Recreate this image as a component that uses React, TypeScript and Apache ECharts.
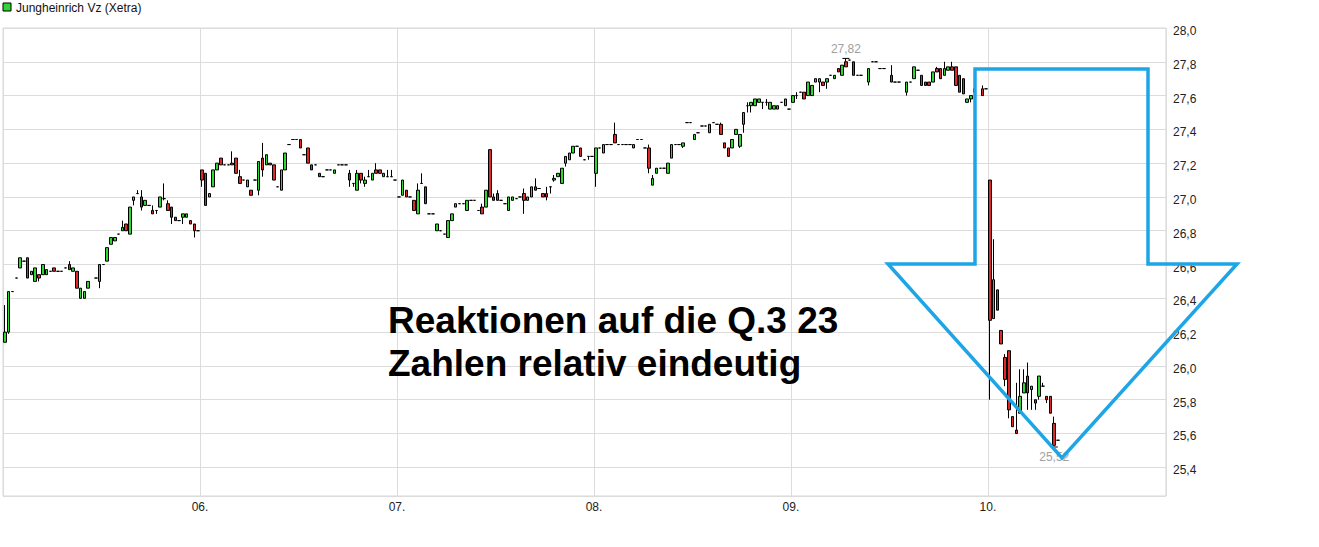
import React, { useEffect, useRef } from "react";
import * as echarts from "echarts";

// each entry: one 10-minute bar from 09:00; [p] = flat, [open, close], or [open, close, low, high]; null = no trade
type Bar = number[] | null;

const dayDates = ["03.11.", "06.11.", "07.11.", "08.11.", "09.11.", "10.11."];
const dayTickLabels = ["03.", "06.", "07.", "08.", "09.", "10."];
const slotsPerDay = 52;
const slotsLastDay = 47;

const nov03: Bar[] = [
  [26.14, 26.2, 26.14, 26.36], [26.2, 26.44, 26.19, 26.44], [26.44], [26.52], [26.58, 26.64], [26.62],
  [26.64, 26.52], [26.54, 26.56], [26.5, 26.58], [26.54, 26.52, 26.5, 26.54], [26.54, 26.6], [26.54, 26.57],
  [26.56], [26.58, 26.56], [26.56], [26.56], [26.58], [26.6, 26.57, 26.57, 26.62], [26.56, 26.58],
  [26.56, 26.46], [26.4, 26.46], [26.4, 26.44], [26.46, 26.5], null, [26.52], [26.5, 26.6, 26.46, 26.6],
  [26.6], [26.62, 26.7], [26.72, 26.76], [26.74, 26.76], [26.78], [26.8, 26.82, 26.8, 26.86], [26.84, 26.8],
  [26.78, 26.94], [26.98, 27.0, 26.95, 27.0], [27.02, 27.02, 27.02, 27.04], [27.0, 26.94, 26.92, 27.04],
  [26.95, 26.98], [26.95], [26.92, 26.9, 26.9, 26.95], [26.92, 26.92, 26.9, 26.92], [26.94, 27.0],
  [26.99, 26.99, 26.98, 27.08], [26.96, 26.92, 26.92, 26.98], [26.94, 26.88, 26.84, 26.94], [26.88, 26.86],
  [26.86], [26.88, 26.9, 26.84, 26.9], [26.88, 26.9], [26.86, 26.84], [26.84, 26.8, 26.76, 26.84], [26.8],
];

const nov06: Bar[] = [
  [27.16, 27.1, 27.06, 27.16], [27.14, 26.95], [27.0, 27.02], [27.06, 27.16], [27.16, 27.2], [27.23, 27.19],
  [27.19], [27.19], [27.2, 27.19, 27.19, 27.27], [27.23, 27.14], [27.12, 27.08, 27.08, 27.16], [27.1],
  [27.06, 27.1], [27.04, 27.01], [27.1], [27.04, 27.21, 27.01, 27.21], [27.23, 27.16, 27.12, 27.32],
  [27.19, 27.25], [27.2, 27.19], [27.19, 27.1], [27.06], [27.04, 27.16], [27.16, 27.26], [27.31], [27.34],
  [27.34], [27.34, 27.29], [27.25], [27.29, 27.2], [27.19, 27.16], [27.19], [27.14, 27.12], [27.12], [27.16],
  [27.16], [27.14, 27.16], [27.19], [27.19], [27.19], [27.14, 27.1, 27.06, 27.16], [27.08, 27.08, 27.06, 27.08],
  [27.04, 27.14, 27.04, 27.16], [27.14, 27.1, 27.08, 27.14], [27.08, 27.1, 27.06, 27.12],
  [27.12, 27.12, 27.12, 27.16], [27.1, 27.14], [27.16, 27.14, 27.14, 27.2], [27.16, 27.14], [27.12, 27.14],
  [27.12, 27.12, 27.12, 27.16], [27.12, 27.12, 27.12, 27.16], [27.1],
];

const nov07: Bar[] = [
  [27.0], [27.01, 27.1], [27.04, 27.0], [27.0], [26.98, 26.92], [26.9, 27.04, 26.9, 27.08],
  [27.08, 27.08, 27.08, 27.14], [27.06, 26.96], [26.9], [26.9], [26.8, 26.84], [26.8], [26.78], [26.76, 26.86],
  [26.86, 26.9], [26.94, 26.96], [26.96], [26.96], [26.92, 26.98], [26.98], [26.98], [26.92],
  [26.94, 26.9, 26.9, 26.96], [26.94, 27.04], [27.28, 27.0], [27.0, 26.98, 26.98, 27.02],
  [27.02, 26.98, 26.98, 27.04], [26.98], [26.96], [26.92, 27.0], [26.98, 27.0], [26.99], [27.0],
  [27.02, 26.98, 26.9, 27.05], [26.98, 27.0], [27.0, 27.06], [27.06, 27.04, 27.04, 27.11], [27.05],
  [27.02, 27.0], [27.02, 27.0, 26.98, 27.06], [27.06, 27.06, 27.02, 27.06], [27.1, 27.11, 27.09, 27.13],
  [27.12, 27.14], [27.08, 27.17], [27.2, 27.24, 27.18, 27.24], [27.22, 27.26], [27.26, 27.3], [27.3],
  [27.29, 27.24], [27.22], [27.24, 27.24, 27.22, 27.24], [27.24],
];

const nov08: Bar[] = [
  [27.14, 27.29, 27.06, 27.29], [27.29], [27.26, 27.31], [27.31], [27.31], [27.37, 27.32, 27.32, 27.44],
  [27.31], [27.31], [27.31], [27.31], [27.29, 27.31], [27.34], [27.34], [27.29], [27.29, 27.17, 27.14, 27.31],
  [27.07, 27.11, 27.07, 27.13], [27.14, 27.17], [27.17], [27.17], [27.14, 27.2], [27.23, 27.31], [27.31],
  [27.31], [27.3, 27.32, 27.29, 27.32], [27.44], [27.44], [27.34, 27.37], [27.38], [27.42], [27.42],
  [27.38, 27.43], [27.44], [27.43], [27.43, 27.37, 27.37, 27.44], [27.32, 27.29], [27.29, 27.24],
  [27.29, 27.34], [27.37, 27.4], [27.3, 27.37, 27.29, 27.37], [27.43, 27.5, 27.38, 27.5],
  [27.54, 27.54, 27.5, 27.56], [27.54, 27.56, 27.5, 27.56], [27.54, 27.58], [27.56, 27.58],
  [27.56, 27.56, 27.52, 27.56], [27.56, 27.56, 27.54, 27.58], [27.52, 27.56], [27.52, 27.54], [27.52, 27.54],
  [27.56], [27.54, 27.58], [27.52],
];

const nov09: Bar[] = [
  [27.56, 27.6], [27.6, 27.6, 27.58, 27.62], [27.62], [27.62, 27.58], [27.6, 27.68], [27.6, 27.66],
  [27.68, 27.7], [27.68, 27.7, 27.62, 27.7], [27.68, 27.66], [27.68, 27.7, 27.64, 27.7], [27.72], [27.7, 27.72],
  [27.76, 27.74], [27.72, 27.78], [27.8, 27.77, 27.77, 27.82], [27.81], [27.8, 27.72], [27.72], [27.72], null,
  [27.68, 27.76, 27.66, 27.76], [27.8], [27.8], [27.76], [27.76], null, [27.72, 27.68, 27.68, 27.78], [27.68],
  [27.68], null, [27.62, 27.68, 27.6, 27.68], [27.68], [27.7, 27.77], [27.75], [27.72, 27.66], [27.68, 27.66],
  [27.68, 27.66], [27.68, 27.74], [27.76, 27.74, 27.74, 27.77], [27.76, 27.7], [27.72, 27.76, 27.72, 27.8],
  [27.75, 27.77], [27.77, 27.75, 27.75, 27.8], [27.77, 27.66], [27.72, 27.62], [27.7, 27.61], [27.56, 27.58],
  [27.58, 27.6, 27.56, 27.6], [27.62, 27.64, 27.58, 27.64], null, [27.64, 27.6, 27.6, 27.66], [27.64],
];

const nov10: Bar[] = [
  [27.1, 26.27, 25.8, 27.1], [26.28, 26.51, 26.28, 26.75], [26.45, 26.33], [26.21, 26.13],
  [26.05, 25.92, 25.88, 26.07], [26.09, 25.74, 25.69, 26.09], [25.7, 25.64], [25.62, 25.6, 25.6, 25.9],
  [25.72, 25.82, 25.72, 25.98], [25.84, 25.9, 25.84, 25.98], [25.94, 25.84, 25.74, 26.02],
  [25.86, 25.88, 25.74, 25.88], [25.8, 25.78, 25.74, 25.8], [25.82, 25.94, 25.8, 25.94],
  [25.88, 25.88, 25.88, 25.9], [25.82, 25.8, 25.78, 25.82], [25.82, 25.72], [25.66, 25.53, 25.52, 25.7],
  [25.56],
];

const days: Bar[][] = [nov03, nov06, nov07, nov08, nov09, nov10];
const annotationLines = ["Reaktionen auf die Q.3 23", "Zahlen relativ eindeutig"];
const legendName = "Jungheinrich Vz (Xetra)";

const FONT = "'Liberation Sans', Arial, Helvetica, sans-serif";
const UP = "#2fd82f";
const DOWN = "#e02828";
const ARROW = "#1ea5e6";

function pad(n: number) {
  return String(n).padStart(2, "0");
}

function buildSeries() {
  const categories: string[] = [];
  const ohlc: any[] = [];
  days.forEach((d, di) => {
    const n = di === days.length - 1 ? slotsLastDay : slotsPerDay;
    for (let j = 0; j < n; j++) {
      const m = 540 + 10 * j;
      categories.push(`${dayDates[di]} ${pad(Math.floor(m / 60))}:${pad(m % 60)}`);
      const c = d[j];
      if (!c) ohlc.push(["-", "-", "-", "-"]);
      else if (c.length === 1) ohlc.push([c[0], c[0], c[0], c[0]]);
      else if (c.length === 2) ohlc.push([c[0], c[1], Math.min(c[0], c[1]), Math.max(c[0], c[1])]);
      else ohlc.push(c);
    }
  });
  return { categories, ohlc };
}

const fmtComma = (v: number, digits: number) => v.toFixed(digits).replace(".", ",");

export default function App() {
  const ref = useRef<HTMLDivElement>(null);

  useEffect(() => {
    if (!ref.current) return;
    const chart = echarts.init(ref.current, undefined, { renderer: "svg" });
    const { categories, ohlc } = buildSeries();
    const total = categories.length;

    const gridL = 3, gridT = 28, gridW = 1163, gridH = 468;

    const option: any = {
      animation: false,
      backgroundColor: "#ffffff",
      textStyle: { fontFamily: FONT },
      grid: { left: gridL, top: gridT, width: gridW, height: gridH, show: true, borderColor: "#d6d6d6", borderWidth: 1 },
      xAxis: [
        { type: "category", data: categories, show: false, boundaryGap: true },
        {
          type: "value",
          min: 0,
          max: total,
          interval: slotsPerDay,
          position: "bottom",
          axisLine: { show: false },
          axisTick: { show: false },
          splitLine: { show: true, lineStyle: { color: "#dcdcdc", width: 1 } },
          axisLabel: {
            show: true,
            color: "#222",
            fontSize: 12,
            fontFamily: FONT,
            margin: 5,
            formatter: (v: number) => {
              const d = Math.round(v / slotsPerDay);
              return v > 0 && Math.abs(v - d * slotsPerDay) < 1e-6 && d < dayTickLabels.length ? dayTickLabels[d] : "";
            },
          },
        },
      ],
      yAxis: {
        type: "value",
        position: "right",
        min: 25.23,
        max: 28.0,
        splitNumber: 14,
        minInterval: 0.2,
        maxInterval: 0.2,
        axisLine: { show: false },
        axisTick: { show: false },
        splitLine: { show: true, lineStyle: { color: "#dcdcdc", width: 1 } },
        axisLabel: {
          color: "#222",
          fontSize: 12,
          fontFamily: FONT,
          margin: 7,
          verticalAlign: "top",
          lineHeight: 6,
          formatter: (v: number) => {
            const k = Math.round(v * 5);
            return Math.abs(v * 5 - k) < 1e-6 ? fmtComma(k / 5, 1) : "";
          },
        },
      },
      series: [
        {
          type: "candlestick",
          xAxisIndex: 0,
          yAxisIndex: 0,
          data: ohlc,
          barWidth: 3,
          itemStyle: {
            color: UP,
            color0: DOWN,
            borderColor: "#000",
            borderColor0: "#000",
            borderColorDoji: "#000",
            borderWidth: 1,
          },
          markPoint: {
            symbol: "rect",
            symbolSize: [7, 1],
            itemStyle: { color: "#000" },
            label: {
              show: true,
              color: "#a0a0a0",
              fontSize: 12,
              fontFamily: FONT,
              distance: 3,
              formatter: (p: any) => fmtComma(Number(p.value), 2),
            },
            data: [
              { type: "max", valueDim: "highest", label: { position: "top" } },
              { type: "min", valueDim: "lowest", label: { position: "bottom" } },
            ],
          },
        },
      ],
      graphic: [
        {
          type: "rect",
          shape: { x: 3, y: 3, width: 8, height: 8 },
          style: { fill: UP, stroke: "#000", lineWidth: 1 },
          z: 10,
        },
        {
          type: "text",
          x: 16,
          y: 7.5,
          style: { text: legendName, fontSize: 12, fontFamily: FONT, fill: "#111", verticalAlign: "middle" },
          z: 10,
        },
        {
          type: "polygon",
          shape: {
            points: [
              [975, 69], [1148, 69], [1148, 264], [1237, 264], [1062, 458], [888, 264], [975, 264],
            ],
          },
          style: { fill: "none", stroke: ARROW, lineWidth: 3.5, lineJoin: "miter" },
          z: 20,
        },
        ...annotationLines.map((t, i) => ({
          type: "text",
          x: 388,
          y: 320 + i * 43,
          style: { text: t, fontSize: 37, fontWeight: "bold", fontFamily: FONT, fill: "#000", verticalAlign: "middle" },
          z: 20,
        })),
      ],
    };

    chart.setOption(option);
    return () => chart.dispose();
  }, []);

  return (
    <div
      ref={ref}
      style={{ position: "absolute", left: 0, top: 0, width: 1319, height: 547, background: "#fff" }}
    />
  );
}
